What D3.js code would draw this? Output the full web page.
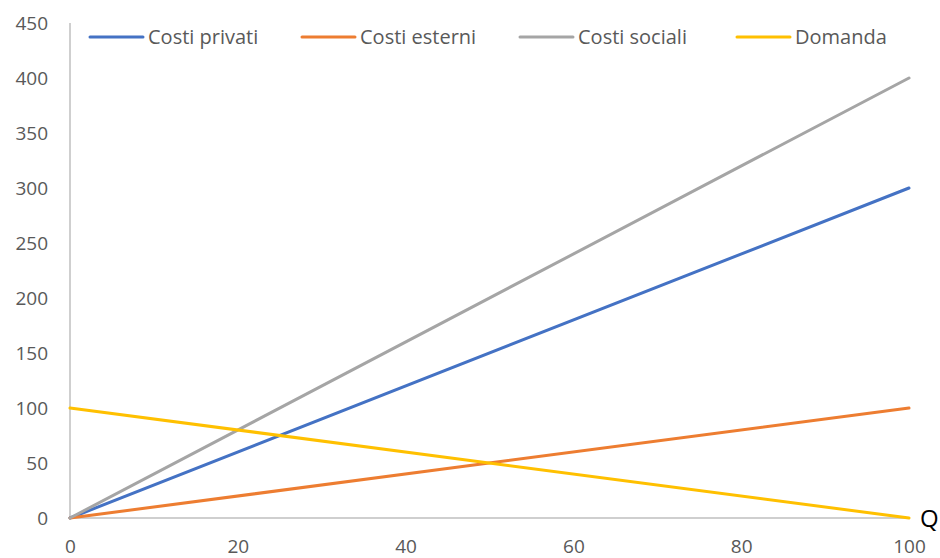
<!DOCTYPE html>
<html>
<head>
<meta charset="utf-8">
<script src="https://cdn.jsdelivr.net/npm/d3@7"></script>
<style>
  html, body { margin: 0; padding: 0; background: #fff; }
  svg { display: block; font-family: "Open Sans", "Noto Sans", sans-serif; }
</style>
</head>
<body>
<svg id="chart" width="940" height="558"></svg>
<script>
// Quantity endpoints and curve values
const quantities = [0, 100];
const costiPrivati = [0, 300];
const costiEsterni = [0, 100];
const costiSociali = [0, 400];
const domanda = [100, 0];

const seriesNames = ["Costi privati", "Costi esterni", "Costi sociali", "Domanda"];
const seriesColors = ["#4472C4", "#ED7D31", "#A5A5A5", "#FFC000"];
const xTicks = [0, 20, 40, 60, 80, 100];
const yTicks = [0, 50, 100, 150, 200, 250, 300, 350, 400, 450];

const series = [costiPrivati, costiEsterni, costiSociali, domanda];

const svg = d3.select("#chart");
const margin = { left: 70, right: 31, top: 23, bottom: 40 };
const W = 940, H = 558;

const x = d3.scaleLinear().domain([0, 100]).range([margin.left, W - margin.right]);
const y = d3.scaleLinear().domain([0, 450]).range([H - margin.bottom, margin.top]);

// Axis lines
svg.append("line")
  .attr("x1", x(0)).attr("x2", x(0))
  .attr("y1", y(0)).attr("y2", y(450))
  .attr("stroke", "#BFBFBF").attr("stroke-width", 1.5);
svg.append("line")
  .attr("x1", x(0)).attr("x2", x(100))
  .attr("y1", y(0)).attr("y2", y(0))
  .attr("stroke", "#BFBFBF").attr("stroke-width", 1.5);

// Y tick labels
const yAxis = svg.append("g")
  .attr("transform", `translate(${x(0) - 22},0)`)
  .call(d3.axisLeft(y).tickValues(yTicks).tickSize(0).tickPadding(0));
yAxis.select(".domain").remove();
yAxis.selectAll("text")
  .attr("font-size", 19).attr("fill", "#595959")
  .attr("font-family", "Open Sans, sans-serif");

// X tick labels
const xAxis = svg.append("g")
  .attr("transform", `translate(0,${y(0) + 21})`)
  .call(d3.axisBottom(x).tickValues(xTicks).tickSize(0).tickPadding(0));
xAxis.select(".domain").remove();
xAxis.selectAll("text")
  .attr("font-size", 19).attr("fill", "#595959")
  .attr("font-family", "Open Sans, sans-serif");

// Lines
const line = d3.line()
  .x((d, i) => x(quantities[i]))
  .y(d => y(d));

series.forEach((vals, i) => {
  svg.append("path")
    .datum(vals)
    .attr("d", line)
    .attr("fill", "none")
    .attr("stroke", seriesColors[i])
    .attr("stroke-width", 3)
    .attr("stroke-linecap", "round");
});

// Axis title for quantity
svg.append("text")
  .attr("x", x(100) + 11).attr("y", y(0) + 9)
  .attr("font-size", 24).attr("fill", "#000")
  .text("Q");

// Legend
const legendX = [90, 302, 520, 737];
const legend = svg.append("g");
seriesNames.forEach((name, i) => {
  const g = legend.append("g").attr("transform", `translate(${legendX[i]},37)`);
  g.append("line").attr("x1", 0).attr("x2", 53).attr("y1", 0).attr("y2", 0)
    .attr("stroke", seriesColors[i]).attr("stroke-width", 3).attr("stroke-linecap", "round");
  g.append("text").attr("x", 58).attr("y", 7)
    .attr("font-size", 20).attr("fill", "#595959")
    .text(name);
});
</script>
</body>
</html>
